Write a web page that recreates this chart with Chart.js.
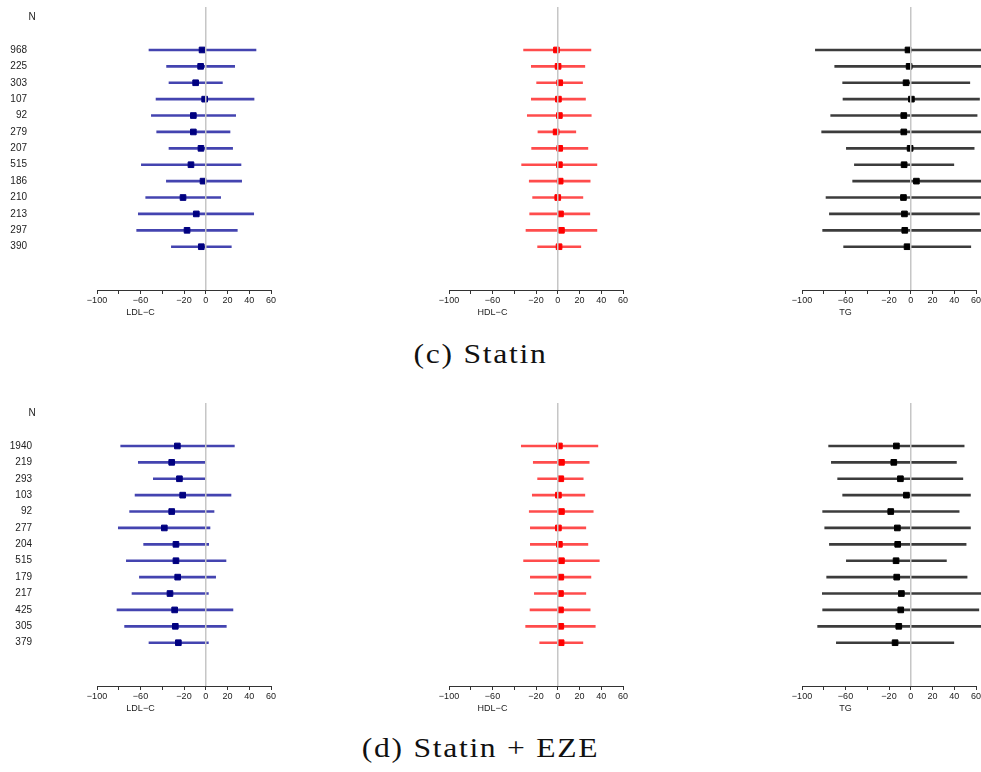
<!DOCTYPE html>
<html><head><meta charset="utf-8">
<script src="https://cdn.jsdelivr.net/npm/chart.js@4.4.1/dist/chart.umd.min.js"></script>
<style>
html,body{margin:0;padding:0;background:#fff;width:981px;height:772px;overflow:hidden;position:relative;}
canvas{position:absolute;}
.cap{position:absolute;left:0;width:961px;text-align:center;font-family:'Liberation Serif',serif;font-size:28px;line-height:28px;color:#111;letter-spacing:1.5px;white-space:nowrap;transform:scaleX(1.13);transform-origin:480.5px 50%;}
</style></head><body>
<div class="cap" style="top:340px">(c) Statin</div>
<div class="cap" style="top:734px">(d) Statin + EZE</div>
<script>
// ---- data ----
const xTicks = [-100, -80, -60, -40, -20, 0, 20, 40, 60];
const xTickLabels = ['\u2212100', '', '\u221260', '', '\u221220', '0', '20', '40', '60'];

// (c) Statin
const nStatin = ['968','225','303','107','92','279','207','515','186','210','213','297','390'];
const ldlStatinEst = [-3.4, -4.7, -9.3, -1.0, -11.4, -11.4, -4.4, -13.6, -2.5, -20.9, -8.7, -17.2, -4.1];
const ldlStatinLo  = [-52.2, -36.0, -33.8, -45.7, -50.0, -45.1, -33.8, -59.2, -36.2, -55.2, -62.0, -63.5, -31.6];
const ldlStatinHi  = [46.2, 26.6, 15.3, 44.4, 27.5, 22.3, 24.7, 32.4, 33.0, 13.7, 44.1, 29.0, 23.5];
const hdlStatinEst = [-1.2, 0.3, 1.8, 0.6, 1.5, -1.5, 1.8, 1.5, 2.2, 0.0, 2.5, 3.4, 1.2];
const hdlStatinLo  = [-31.4, -24.3, -19.4, -24.3, -28.0, -18.2, -24.0, -33.2, -26.2, -23.1, -25.8, -29.2, -18.5];
const hdlStatinHi  = [30.5, 24.9, 22.8, 25.5, 30.8, 16.6, 27.7, 36.0, 29.8, 23.1, 29.5, 36.0, 21.2];
const tgStatinEst  = [-2.5, -1.5, -4.3, 0.6, -6.4, -6.4, -0.6, -6.1, 5.2, -6.7, -5.8, -5.5, -3.4];
const tgStatinLo   = [-87.7, -69.9, -62.6, -62.3, -73.6, -81.9, -59.2, -51.8, -53.4, -77.9, -74.8, -81.0, -61.7];
const tgStatinHi   = [82.0, 67.0, 54.3, 63.2, 61.0, 69.0, 58.3, 39.6, 66.0, 70.0, 63.2, 70.0, 55.2];

// (d) Statin + EZE
const nStatinEze = ['1940','219','293','103','92','277','204','515','179','217','425','305','379'];
const ldlEzeEst = [-26.1, -31.3, -24.2, -21.2, -31.3, -38.1, -27.4, -27.4, -25.8, -32.9, -28.6, -28.0, -25.2];
const ldlEzeLo  = [-78.2, -62.0, -48.2, -65.0, -70.0, -80.4, -57.1, -73.0, -61.0, -67.8, -81.6, -74.6, -52.2];
const ldlEzeHi  = [26.3, -1.0, -1.0, 23.2, 7.6, 3.9, 2.7, 18.6, 9.1, 2.4, 25.0, 18.9, 2.4];
const hdlEzeEst = [1.5, 3.4, 2.8, 0.6, 3.4, 0.6, 1.5, 3.4, 2.8, 2.5, 2.5, 2.8, 3.1];
const hdlEzeLo  = [-33.5, -22.5, -18.5, -23.4, -26.2, -25.2, -25.2, -31.4, -25.2, -21.5, -25.5, -29.5, -16.6];
const hdlEzeHi  = [36.9, 28.9, 23.4, 24.9, 32.6, 25.8, 27.7, 38.2, 30.5, 25.8, 29.8, 34.5, 23.1];
const tgEzeEst  = [-13.2, -15.6, -9.5, -4.0, -18.4, -12.3, -12.0, -13.5, -12.9, -8.6, -9.2, -11.0, -14.4];
const tgEzeLo   = [-75.5, -73.0, -67.2, -62.6, -81.0, -79.1, -74.8, -59.2, -77.3, -81.3, -81.0, -85.6, -68.4];
const tgEzeHi   = [49.1, 42.0, 47.9, 54.9, 44.5, 54.9, 50.9, 32.8, 51.8, 68.0, 62.6, 66.0, 39.6];

// ---- drawing ----
Chart.defaults.font.family = "'Liberation Sans', Arial, sans-serif";
Chart.defaults.font.size = 9;

const panels = [
  {left: 0,   top: 0,   labels: nStatin,    showN: true,  labelPad: 70, est: ldlStatinEst, lo: ldlStatinLo, hi: ldlStatinHi, title: 'LDL\u2212C', line: '#4444b0', box: '#000080'},
  {left: 352, top: 0,   labels: nStatin,    showN: false, labelPad: 70, est: hdlStatinEst, lo: hdlStatinLo, hi: hdlStatinHi, title: 'HDL\u2212C', line: '#ff4c4c', box: '#ff0000'},
  {left: 705, top: 0,   labels: nStatin,    showN: false, labelPad: 70, est: tgStatinEst,  lo: tgStatinLo,  hi: tgStatinHi,  title: 'TG',        line: '#3c3c3c', box: '#000000'},
  {left: 0,   top: 396, labels: nStatinEze, showN: true,  labelPad: 65, est: ldlEzeEst,    lo: ldlEzeLo,    hi: ldlEzeHi,    title: 'LDL\u2212C', line: '#4444b0', box: '#000080'},
  {left: 352, top: 396, labels: nStatinEze, showN: false, labelPad: 65, est: hdlEzeEst,    lo: hdlEzeLo,    hi: hdlEzeHi,    title: 'HDL\u2212C', line: '#ff4c4c', box: '#ff0000'},
  {left: 705, top: 396, labels: nStatinEze, showN: false, labelPad: 65, est: tgEzeEst,     lo: tgEzeLo,     hi: tgEzeHi,     title: 'TG',        line: '#3c3c3c', box: '#000000'}
];

function overlay(p) {
  return {
    id: 'overlay',
    afterDatasetsDraw(chart) {
      const {ctx, chartArea, scales} = chart;
      const x0 = scales.x.getPixelForValue(0);
      ctx.save();
      ctx.strokeStyle = '#c6c6c6';
      ctx.lineWidth = 1.5;
      ctx.beginPath();
      ctx.moveTo(x0, chartArea.top);
      ctx.lineTo(x0, chartArea.bottom);
      ctx.stroke();
      ctx.restore();
    },
    afterDraw(chart) {
      const {ctx, chartArea, scales} = chart;
      ctx.save();
      ctx.fillStyle = '#222';
      ctx.font = "9px 'Liberation Sans', Arial, sans-serif";
      ctx.textAlign = 'center';
      ctx.textBaseline = 'middle';
      ctx.fillText(p.title, scales.x.getPixelForValue(-60), chartArea.bottom + 23);
      if (p.showN) {
        ctx.font = "10px 'Liberation Sans', Arial, sans-serif";
        ctx.fillText('N', 32, scales.y.getPixelForValue(0));
      }
      ctx.restore();
    }
  };
}

function makePanel(p) {
  const cv = document.createElement('canvas');
  cv.width = 283; cv.height = 330;
  cv.style.left = p.left + 'px';
  cv.style.top = p.top + 'px';
  document.body.appendChild(cv);
  const rows = p.est.map((_, k) => k + 2);
  new Chart(cv, {
    type: 'bar',
    data: {
      datasets: [
        {
          type: 'bar', indexAxis: 'y',
          data: rows.map((r, k) => ({y: r, x: [p.lo[k], p.hi[k]]})),
          backgroundColor: p.line, borderWidth: 0, barThickness: 2,
          clip: false, order: 2
        },
        {
          type: 'line', indexAxis: 'y', showLine: false,
          data: rows.map((r, k) => ({y: r, x: p.est[k]})),
          pointStyle: 'rect', pointRadius: 4, pointBorderWidth: 1,
          pointBackgroundColor: p.box, pointBorderColor: p.box,
          clip: false, order: 1
        }
      ]
    },
    options: {
      indexAxis: 'y', responsive: false, animation: false, devicePixelRatio: 1,
      layout: {padding: {top: 7, right: 12, bottom: 0, left: 0}},
      plugins: {legend: {display: false}, tooltip: {enabled: false}},
      scales: {
        x: {
          type: 'linear', min: -100, max: 60, offset: false,
          afterBuildTicks: s => { s.ticks = xTicks.map(v => ({value: v})); },
          afterFit: s => { s.height = 40; s.paddingLeft = 0; s.paddingRight = 0; },
          grid: {display: true, drawOnChartArea: false, drawTicks: true, tickLength: 4, tickColor: '#333', color: 'rgba(0,0,0,0)'},
          border: {display: true, color: '#333', width: 1},
          ticks: {callback: (v, i) => xTickLabels[i], color: '#222', padding: 1, maxRotation: 0, autoSkip: false}
        },
        y: {
          type: 'linear', reverse: true, min: -0.62, max: 16.64, offset: false,
          afterBuildTicks: s => { s.ticks = rows.map(v => ({value: v})); },
          afterFit: s => { s.width = 97; s.paddingTop = 0; s.paddingBottom = 0; },
          grid: {display: false, drawTicks: false},
          border: {display: false},
          ticks: {display: p.showN, callback: (v, i) => p.labels[i], padding: p.labelPad, color: '#222', font: {size: 10}, autoSkip: false}
        }
      }
    },
    plugins: [overlay(p)]
  });
}

panels.forEach(makePanel);
</script>
</body></html>
